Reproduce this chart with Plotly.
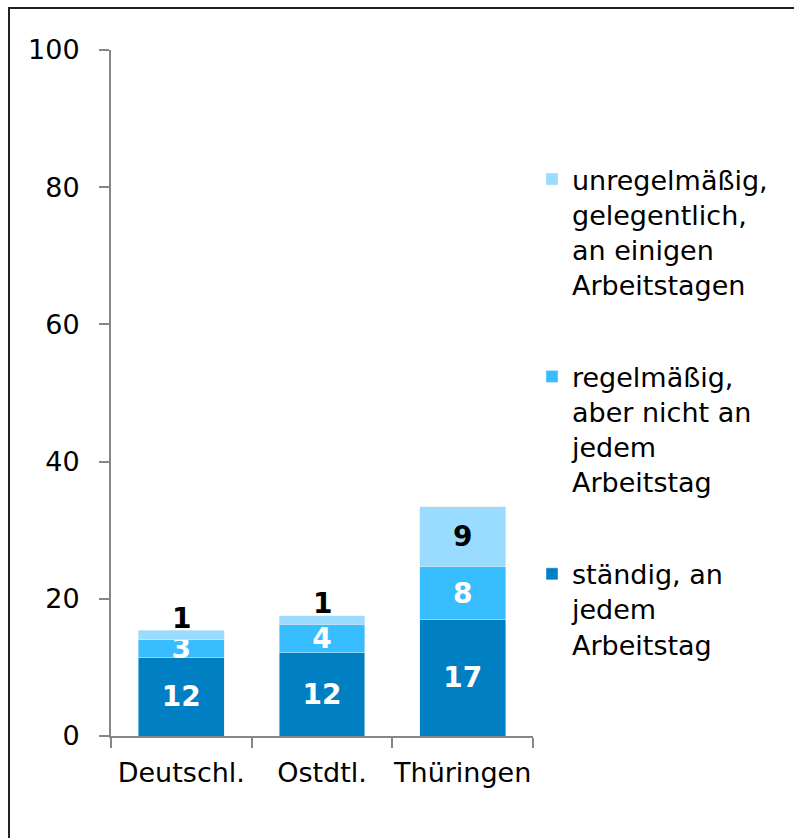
import plotly.graph_objects as go

categories = ["Deutschl.", "Ostdtl.", "Thüringen"]

# series values (percent)
staendig = [11.4, 12.1, 16.95]
regelmaessig = [2.6, 4.2, 7.75]
unregelmaessig = [1.45, 1.25, 8.75]

# displayed (rounded) labels
lab_staendig = ["12", "12", "17"]
lab_regel = ["3", "4", "8"]
lab_unregel = ["1", "1", "9"]

names = [
    "ständig, an<br>jedem<br>Arbeitstag",
    "regelmäßig,<br>aber nicht an<br>jedem<br>Arbeitstag",
    "unregelmäßig,<br>gelegentlich,<br>an einigen<br>Arbeitstagen",
]
colors = ["#0080C2", "#38BDFF", "#9ADCFF"]
y_ticks = [0, 20, 40, 60, 80, 100]

FONT = "DejaVu Sans, Arial, sans-serif"
FS = 27
LAB = dict(family=FONT, size=28, color="white", weight="bold")
LAB_DARK = dict(family=FONT, size=28, color="black", weight="bold")

# labels of thin top segments are drawn just above the bar (as in the original)
thin = [v < 3 for v in unregelmaessig]
inner_unregel = ["" if t else s for s, t in zip(lab_unregel, thin)]

fig = go.Figure()
fig.add_trace(go.Bar(
    x=categories, y=staendig, name=names[0], marker_color=colors[0],
    text=lab_staendig, textposition="inside", insidetextanchor="middle",
    constraintext="none", textangle=0, textfont=LAB, insidetextfont=LAB,
    width=0.61, legendgroup="c", legendrank=3, cliponaxis=False,
))
fig.add_trace(go.Bar(
    x=categories, y=regelmaessig, name=names[1], marker_color=colors[1],
    text=lab_regel, textposition="inside", insidetextanchor="middle",
    constraintext="none", textangle=0, textfont=LAB, insidetextfont=LAB,
    width=0.61, legendgroup="b", legendrank=2, cliponaxis=False,
))
fig.add_trace(go.Bar(
    x=categories, y=unregelmaessig, name=names[2], marker_color=colors[2],
    text=inner_unregel, textposition="inside",
    insidetextanchor="middle", constraintext="none", textangle=0,
    textfont=LAB_DARK, insidetextfont=LAB_DARK,
    width=0.61, legendgroup="a", legendrank=1, cliponaxis=False,
))

annotations = []
for i, cat in enumerate(categories):
    if thin[i]:
        total = staendig[i] + regelmaessig[i] + unregelmaessig[i]
        annotations.append(dict(
            x=cat, y=total, xref="x", yref="y", text=lab_unregel[i],
            showarrow=False, yanchor="middle", yshift=12,
            font=LAB_DARK,
        ))

# paper coordinate helpers for frame
W, H = 794, 838
ml, mr, mt, mb = 111, 261, 50, 102
pw, ph = W - ml - mr, H - mt - mb

fig.update_layout(
    barmode="stack",
    width=W, height=H,
    margin=dict(l=ml, r=mr, t=mt, b=mb, autoexpand=False),
    paper_bgcolor="white", plot_bgcolor="white",
    font=dict(family=FONT, size=FS, color="black"),
    showlegend=True,
    annotations=annotations,
    legend=dict(
        x=(532 - ml) / pw, xanchor="left",
        y=(736 - 155) / ph, yanchor="top",
        traceorder="grouped", tracegroupgap=54,
        itemwidth=30, valign="top",
        font=dict(family=FONT, size=FS, color="black"),
        bgcolor="rgba(0,0,0,0)",
    ),
    xaxis=dict(
        type="category", range=[-0.5, 2.5], tickangle=0, automargin=False,
        showline=True, linecolor="#868686", linewidth=2,
        ticks="outside", tickson="boundaries", ticklen=10,
        tickcolor="#868686", tickwidth=2, ticklabelstandoff=12,
        showgrid=False, zeroline=False,
        tickfont=dict(family=FONT, size=FS, color="black"),
    ),
    yaxis=dict(
        range=[0, 100], tickvals=y_ticks, automargin=False,
        showline=True, linecolor="#868686", linewidth=2,
        ticks="outside", ticklen=10, tickcolor="#868686", tickwidth=2,
        showgrid=False, zeroline=False, ticklabelstandoff=14,
        tickfont=dict(family=FONT, size=FS, color="black"),
    ),
    shapes=[dict(
        type="rect", xref="paper", yref="paper",
        x0=(9 - ml) / pw, x1=(W + 20 - ml) / pw,
        y0=(736 - (H + 20)) / ph, y1=(736 - 8) / ph,
        line=dict(color="#222222", width=2), fillcolor="rgba(0,0,0,0)",
        layer="above",
    )],
)

fig.write_html("out.html")
